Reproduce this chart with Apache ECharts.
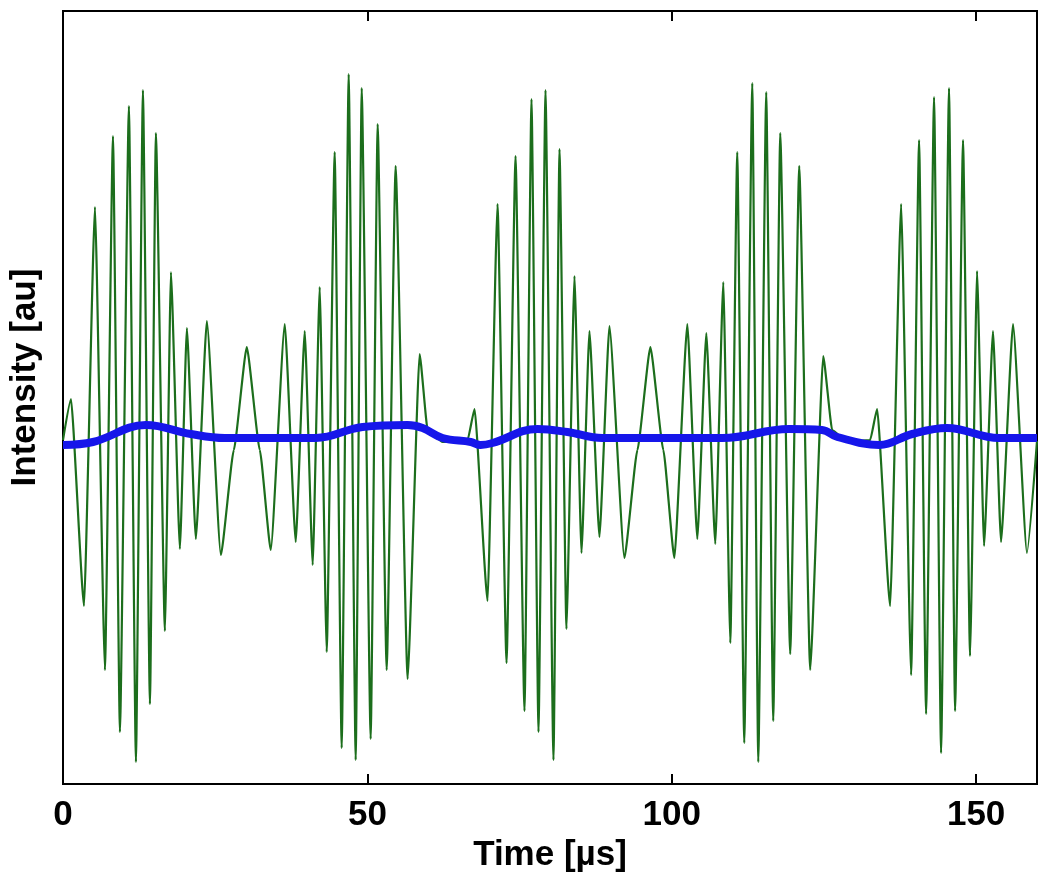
<!DOCTYPE html>
<html>
<head>
<meta charset="utf-8">
<script src="https://cdn.jsdelivr.net/npm/echarts@6/dist/echarts.min.js"></script>
<style>
html,body{margin:0;padding:0;background:#fff;}
#chart{width:1050px;height:889px;}
</style>
</head>
<body>
<div id="chart"></div>
<script>
// X tick values (µs)
const xTicks = [0, 50, 100, 150];

// Green trace: times (µs) of read-off turning points and their intensities (au)
const greenTime = [
  0, 1.31, 3.45, 5.25, 6.89, 8.21, 9.35, 10.83, 11.98, 13.13, 14.28, 15.26, 16.74, 17.73, 19.20, 20.35, 21.82, 23.63, 25.93,
  28.06, 30.19, 32.33, 34.13, 36.43, 38.23, 39.71, 41.02, 42.17, 43.32, 44.63, 45.78, 46.93, 48.08, 49.07, 50.54, 51.69,
  53.17, 54.64, 56.61, 58.58, 59.90, 62.36, 66.46, 67.61, 69.74, 71.38, 72.86, 74.34, 75.81, 76.96, 78.11, 79.26, 80.57,
  81.56, 82.70, 84.02, 85.17, 86.48, 88.12, 89.76, 92.22, 94.36, 96.49, 98.62, 100.43, 102.56, 104.20, 105.68, 107.15,
  108.47, 109.62, 110.76, 111.91, 113.23, 114.21, 115.52, 116.67, 117.82, 119.46, 120.94, 122.74, 124.88, 126.35, 128.82,
  132.59, 133.74, 135.87, 137.68, 139.32, 140.63, 141.78, 143.09, 144.24, 145.55, 146.54, 147.85, 149.00, 150.15, 151.30,
  152.77, 154.09, 156.06, 158.35, 160
];
const greenValue = [
  0, 0.41, -1.66, 2.33, -2.30, 3.04, -2.92, 3.34, -3.22, 3.50, -2.64, 3.07, -1.91, 1.68, -1.09, 1.12, -0.99, 1.19, -1.15,
  -0.10, 0.93, -0.10, -1.10, 1.16, -1.02, 1.09, -1.25, 1.53, -2.12, 2.88, -3.08, 3.66, -3.20, 3.52, -2.99, 3.16,
  -2.30, 2.74, -2.39, 0.86, 0.10, -0.02, 0, 0.31, -1.61, 2.36, -2.23, 2.84, -2.71, 3.41, -2.92, 3.50, -3.20,
  2.91, -1.89, 1.64, -1.13, 1.09, -0.97, 1.14, -1.18, -0.10, 0.93, -0.10, -1.18, 1.16, -0.99, 1.07, -1.04,
  1.58, -2.03, 2.88, -3.03, 3.57, -3.22, 3.48, -2.81, 3.07, -2.14, 2.74, -2.30, 0.84, 0.10, -0.02,
  0, 0.31, -1.66, 2.36, -2.35, 3.00, -2.74, 3.43, -3.13, 3.52, -2.71, 3.00, -2.16, 1.69, -1.06,
  1.09, -1.02, 1.16, -1.13, -0.01
];

// Blue trace: slow baseline read-off
const blueTime = [0, 4.92, 13.62, 21.0, 26.58, 41.5, 49.2, 56.6, 59.07, 62.36, 67.0, 68.6, 70.56, 77.95, 82.87, 88.6,
  108.3, 119.3, 124.7, 127.2, 134.1, 139.5, 145.2, 153.8, 160];
const blueValue = [-0.05, -0.02, 0.15, 0.06, 0.02, 0.02, 0.13, 0.15, 0.12, 0.02, -0.02, -0.05, -0.03, 0.11, 0.08, 0.02,
  0.02, 0.11, 0.10, 0.03, -0.05, 0.06, 0.12, 0.02, 0.02];

const greenData = greenTime.map((t, i) => [t, greenValue[i]]);
const blueData = blueTime.map((t, i) => [t, blueValue[i]]);

const font = "'Liberation Sans', Arial, Helvetica, sans-serif";
const chart = echarts.init(document.getElementById('chart'), null, {renderer: 'canvas'});
chart.setOption({
  animation: false,
  backgroundColor: '#ffffff',
  grid: {left: 60, right: 13, top: 11, bottom: 105, show: true, borderColor: '#000', borderWidth: 2, backgroundColor: 'transparent'},
  xAxis: [{
    type: 'value', min: 0, max: 160, interval: 50,
    name: 'Time [µs]', nameLocation: 'middle', nameGap: 54,
    nameTextStyle: {fontFamily: font, fontWeight: 'bold', fontSize: 35, color: '#000'},
    axisLine: {show: false, onZero: false},
    axisTick: {show: true, inside: true, length: 10, lineStyle: {color: '#000', width: 2}},
    axisLabel: {fontFamily: font, fontWeight: 'bold', fontSize: 35, color: '#000', margin: 14,
      formatter: v => xTicks.includes(v) ? String(v) : ''},
    splitLine: {show: false}
  }, {
    type: 'value', min: 0, max: 160, interval: 50, position: 'top',
    axisLine: {show: false, onZero: false},
    axisTick: {show: true, inside: true, length: 10, lineStyle: {color: '#000', width: 2}},
    axisLabel: {show: false},
    splitLine: {show: false}
  }],
  yAxis: {
    type: 'value', min: -3.44, max: 4.29,
    name: 'Intensity [au]', nameLocation: 'middle', nameGap: 20, nameRotate: 90,
    nameTextStyle: {fontFamily: font, fontWeight: 'bold', fontSize: 35, color: '#000', padding: [0, 0, 0, 40]},
    axisLine: {show: false, onZero: false}, axisTick: {show: false}, axisLabel: {show: false}, splitLine: {show: false}
  },
  series: [{
    type: 'line', data: greenData, showSymbol: false, smooth: 0.15, smoothMonotone: 'x',
    lineStyle: {color: '#1c6e1c', width: 2.2}, z: 2
  }, {
    type: 'line', data: blueData, showSymbol: false, smooth: 0.4,
    lineStyle: {color: '#1616ea', width: 8}, z: 3
  }]
});
</script>
</body>
</html>
